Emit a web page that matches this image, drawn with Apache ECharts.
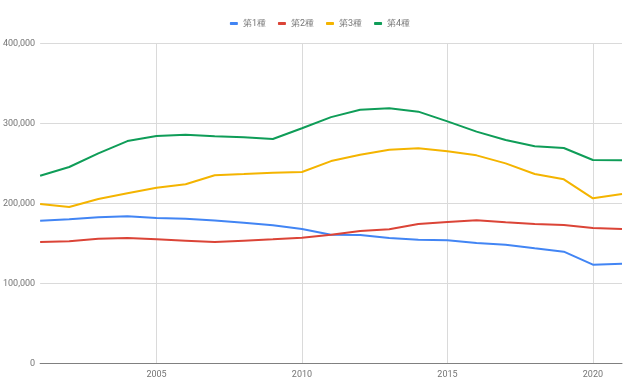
<!DOCTYPE html>
<html>
<head>
<meta charset="utf-8">
<script src="https://cdn.jsdelivr.net/npm/echarts@6/dist/echarts.min.js"></script>
<style>html,body{margin:0;padding:0;background:#fff}#c{width:640px;height:388px}</style>
</head>
<body>
<div id="c"></div>
<script>
var years = ['2001','2002','2003','2004','2005','2006','2007','2008','2009','2010','2011','2012','2013','2014','2015','2016','2017','2018','2019','2020','2021'];
var seriesNames = ['第1種','第2種','第3種','第4種'];
var type1 = [178500,180200,182700,184000,181900,181000,178800,176000,172700,168000,161000,160600,156900,154800,154000,150600,148500,144000,139800,123500,124800];
var type2 = [151900,152700,156000,156900,155200,153500,151900,153500,155200,157300,161000,165600,167700,174400,176900,179000,176500,174400,173100,169400,168100];
var type3 = [199400,195600,205600,212700,219800,224000,235400,236900,238500,239400,253000,261000,267300,269000,265200,260200,250200,236900,230200,206500,211900];
var type4 = [234700,245600,262700,278000,284400,286000,284000,282700,280600,294000,308000,317300,319000,314800,302700,289800,279400,271500,269400,254400,254000];
var yTicks = [0,100000,200000,300000,400000];
var labelYears = ['2005','2010','2015','2020'];
var colors = ['#4285F4','#DB4437','#F4B400','#0F9D58'];

var chart = echarts.init(document.getElementById('c'));
var font = 'Roboto, Arial, sans-serif';
function showYear(idx, val){ return labelYears.indexOf(val) >= 0; }
var dataSets = [type1,type2,type3,type4];
chart.setOption({
  animation:false,
  color: colors,
  legend:{
    top: 14, left:'center',
    icon:'roundRect', itemWidth:8, itemHeight:3, itemGap:12,
    textStyle:{color:'#757575', fontSize:9, fontFamily:font},
    data: seriesNames
  },
  grid:{left:40,right:18,top:43.5,bottom:24.5,containLabel:false},
  xAxis:{
    type:'category', data: years, boundaryGap:false,
    axisLine:{lineStyle:{color:'#808080',width:1}},
    axisTick:{show:false},
    axisLabel:{interval:showYear, color:'#757575', fontSize:9, fontFamily:font, margin:7},
    splitLine:{show:true, interval:showYear, lineStyle:{color:'#dadada',width:1}}
  },
  yAxis:{
    type:'value', min:yTicks[0], max:yTicks[yTicks.length-1], interval:100000,
    axisLine:{show:false}, axisTick:{show:false},
    axisLabel:{color:'#757575', fontSize:9, fontFamily:font, margin:5,
      formatter:function(v){return v.toLocaleString('en-US');}},
    splitLine:{lineStyle:{color:'#dadada',width:1}}
  },
  series: seriesNames.map(function(n,i){
    return {name:n,type:'line',data:dataSets[i],showSymbol:false,symbol:'none',
      lineStyle:{width:2,color:colors[i]},itemStyle:{color:colors[i]}};
  })
});
</script>
</body>
</html>
